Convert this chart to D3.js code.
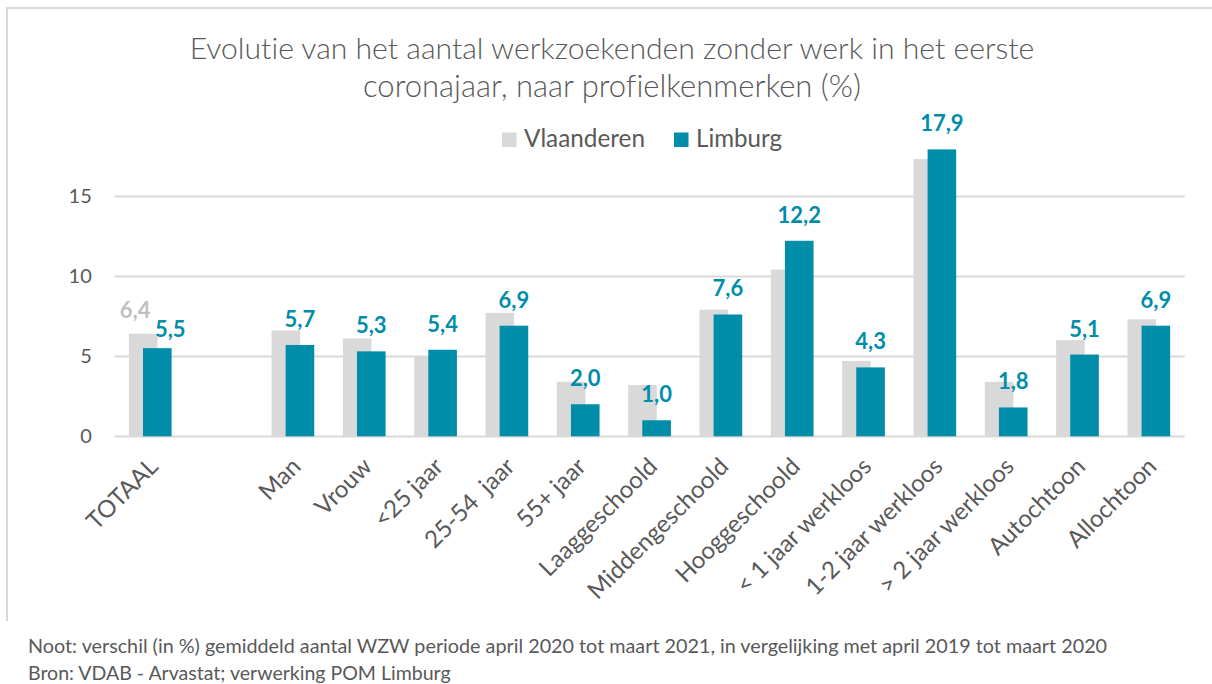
<!DOCTYPE html>
<html>
<head>
<meta charset="utf-8">
<script src="https://cdn.jsdelivr.net/npm/d3@7"></script>
<style>
  body { margin: 0; background: #fff; }
  text { font-family: Lato, "Open Sans", sans-serif; font-variant-ligatures: none; white-space: pre; }
</style>
</head>
<body>
<svg id="chart" width="1212" height="684"></svg>
<script>
// data (empty slot between TOTAAL and Man)
const categories = ['TOTAAL', '', 'Man', 'Vrouw', '<25 jaar', '25-54  jaar', '55+ jaar',
  'Laaggeschoold', 'Middengeschoold', 'Hooggeschoold', '< 1 jaar werkloos',
  '1-2 jaar werkloos', '> 2 jaar werkloos', 'Autochtoon', 'Allochtoon'];
const vlaanderen = [6.4, null, 6.6, 6.1, 5.0, 7.7, 3.4, 3.2, 7.9, 10.4, 4.7, 17.3, 3.4, 6.0, 7.3];
const limburg = [5.5, null, 5.7, 5.3, 5.4, 6.9, 2.0, 1.0, 7.6, 12.2, 4.3, 17.9, 1.8, 5.1, 6.9];
const yTicks = [0, 5, 10, 15];
const seriesNames = ['Vlaanderen', 'Limburg'];
const titleLines = ['Evolutie van het aantal werkzoekenden zonder werk in het eerste',
  'coronajaar, naar profielkenmerken (%)'];
const notes = ['Noot: verschil (in %) gemiddeld aantal WZW periode april 2020 tot maart 2021, in vergelijking met april 2019 tot maart 2020',
  'Bron: VDAB - Arvastat; verwerking POM Limburg'];

const grey = '#d9d9d9';
const teal = '#008da9';
const textColor = '#595959';

const svg = d3.select('#chart');
const comma = d3.formatLocale({ decimal: ',', thousands: '.', grouping: [3], currency: ['', ''] }).format('.1f');

// shrink/grow a text so it spans the given width
function fitWidth(sel, width) {
  sel.each(function () {
    let size = parseFloat(this.getAttribute('font-size'));
    let w = this.getComputedTextLength();
    this.setAttribute('font-size', (size * width / w).toFixed(2));
  });
}

// chart border
svg.append('path')
  .attr('d', 'M7,621V8H1212')
  .attr('fill', 'none')
  .attr('stroke', grey)
  .attr('stroke-width', 2);

// title
titleLines.forEach((line, i) => {
  svg.append('text')
    .attr('x', 612)
    .attr('y', 59 + i * 38)
    .attr('text-anchor', 'middle')
    .attr('font-size', 28)
    .attr('font-weight', 300)
    .attr('fill', textColor)
    .text(line)
    .call(fitWidth, i === 0 ? 845 : 498);
});

let x = d3.scaleBand()
  .domain(d3.range(categories.length))
  .range([114.8, 1184.7]);

let y = d3.scaleLinear()
  .domain([0, 15])
  .range([436.3, 195.9]);

// gridlines
svg.append('g')
  .selectAll('line')
  .data(yTicks)
  .join('line')
  .attr('x1', x.range()[0])
  .attr('x2', x.range()[1])
  .attr('y1', (d) => Math.round(y(d)) + 0.5)
  .attr('y2', (d) => Math.round(y(d)) + 0.5)
  .attr('stroke', grey)
  .attr('stroke-width', 2);

// y axis labels
let yAxis = svg.append('g')
  .attr('transform', `translate(${x.range()[0]},0)`)
  .call(d3.axisLeft(y).tickValues(yTicks).tickSize(0).tickPadding(23));
yAxis.select('.domain').remove();
yAxis.selectAll('text')
  .attr('font-family', 'Lato, sans-serif')
  .attr('font-size', 20)
  .attr('fill', textColor);

// bars
const barW = 28.6;
svg.append('g')
  .selectAll('rect')
  .data(vlaanderen.map((v, i) => ({ v, i })).filter((d) => d.v !== null))
  .join('rect')
  .attr('x', (d) => x(d.i) + 14.1)
  .attr('y', (d) => y(d.v))
  .attr('width', barW)
  .attr('height', (d) => y(0) - y(d.v))
  .attr('fill', grey);

svg.append('g')
  .selectAll('rect')
  .data(limburg.map((v, i) => ({ v, i })).filter((d) => d.v !== null))
  .join('rect')
  .attr('x', (d) => x(d.i) + 28.2)
  .attr('y', (d) => y(d.v))
  .attr('width', barW)
  .attr('height', (d) => y(0) - y(d.v))
  .attr('fill', teal);

// value labels (Limburg everywhere, Vlaanderen only for TOTAAL)
svg.append('g')
  .selectAll('text')
  .data(limburg.map((v, i) => ({ v, i })).filter((d) => d.v !== null))
  .join('text')
  .attr('x', (d) => x(d.i) + 28.2 + barW / 2 + (d.i === 0 ? 13 : 0))
  .attr('y', (d) => y(d.v) - (d.i === 0 ? 11 : 18))
  .attr('text-anchor', 'middle')
  .attr('font-size', 22)
  .attr('font-weight', 'bold')
  .attr('fill', teal)
  .text((d) => comma(d.v));

svg.append('text')
  .attr('x', x(0) + 14.1 + barW / 2 - 8)
  .attr('y', y(vlaanderen[0]) - 15.5)
  .attr('text-anchor', 'middle')
  .attr('font-size', 22)
  .attr('font-weight', 'bold')
  .attr('fill', '#bfbfbf')
  .text(comma(vlaanderen[0]));

// category labels, rotated
svg.append('g')
  .selectAll('text')
  .data(categories.map((c, i) => ({ c, i })).filter((d) => d.c !== ''))
  .join('text')
  .attr('transform', (d) => `translate(${x(d.i) + x.bandwidth() / 2 + 9},${468}) rotate(-45)`)
  .attr('text-anchor', 'end')
  .attr('font-size', 24)
  .attr('fill', textColor)
  .text((d) => d.c);

// legend
const legend = svg.append('g');
const legendX = [502, 674];
seriesNames.forEach((name, i) => {
  legend.append('rect')
    .attr('x', legendX[i])
    .attr('y', 132.5)
    .attr('width', 14.5)
    .attr('height', 14.5)
    .attr('fill', i === 0 ? grey : teal);
  legend.append('text')
    .attr('x', legendX[i] + 22)
    .attr('y', 147)
    .attr('font-size', 24)
    .attr('fill', textColor)
    .text(name)
    .call(fitWidth, i === 0 ? 121 : 86);
});

// footnotes
notes.forEach((line, i) => {
  svg.append('text')
    .attr('x', 28)
    .attr('y', 653 + i * 27)
    .attr('font-size', 20)
    .attr('fill', textColor)
    .text(line)
    .call(fitWidth, i === 0 ? 1080 : 423);
});
</script>
</body>
</html>
